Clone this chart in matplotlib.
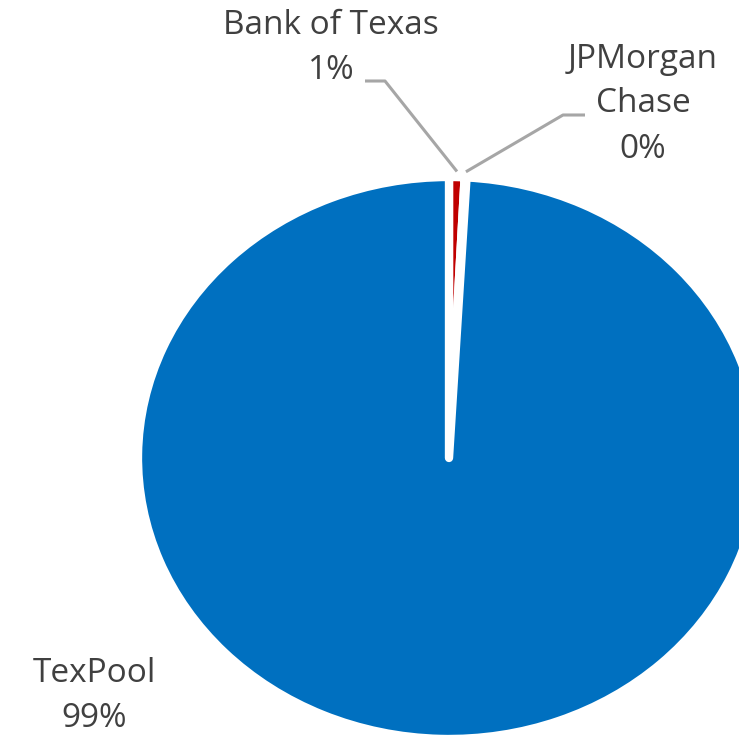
import matplotlib
matplotlib.use("Agg")
import matplotlib.pyplot as plt
import numpy as np

labels = ["Bank of Texas", "JPMorgan\nChase", "TexPool"]
values = [0.80, 0.10, 99.10]
pct_labels = ["1%", "0%", "99%"]
colors = ["#C00000", "#D9D9D9", "#0070C0"]

W, H = 739, 735
fig = plt.figure(figsize=(W / 100, H / 100), dpi=100)
ax = fig.add_axes([0, 0, 1, 1])

# pixel geometry of the (slightly stretched) pie
cx, cy, rx, ry = 449, 458, 311, 281

wedges, _ = ax.pie(values, colors=colors, startangle=90, counterclock=False,
                   radius=1.0,
                   wedgeprops=dict(edgecolor="white", linewidth=6, joinstyle="round"))
ax.set_aspect("auto")
ax.set_xlim(-cx / rx, (W - cx) / rx)
ax.set_ylim(-(H - cy) / ry, cy / ry)
ax.axis("off")

def px(xp, yp):
    return ((xp - cx) / rx, (cy - yp) / ry)

txt = dict(color="#404040", fontsize=24, family=["Open Sans", "DejaVu Sans"],
           ha="center", va="center", linespacing=1.48)

# label positions (pixels)
label_pos = [(331, 48), (643, 104), (94, 696)]
for lab, pct, pos in zip(labels, pct_labels, label_pos):
    x, y = px(*pos)
    ax.text(x, y, f"{lab}\n{pct}", **txt)

# leader lines for the small slices
elbows = [((365, 81), (385, 81)), ((585, 115), (563, 115))]
for w, (p0, p1) in zip(wedges[:2], elbows):
    ang = np.deg2rad((w.theta1 + w.theta2) / 2)
    ex, ey = np.cos(ang) * 1.02, np.sin(ang) * 1.02
    x0, y0 = px(*p0)
    x1, y1 = px(*p1)
    ax.plot([x0, x1, ex], [y0, y1, ey], color="#A6A6A6", lw=2.2,
            solid_capstyle="butt", clip_on=False)

fig.savefig("out.png", dpi=100)
